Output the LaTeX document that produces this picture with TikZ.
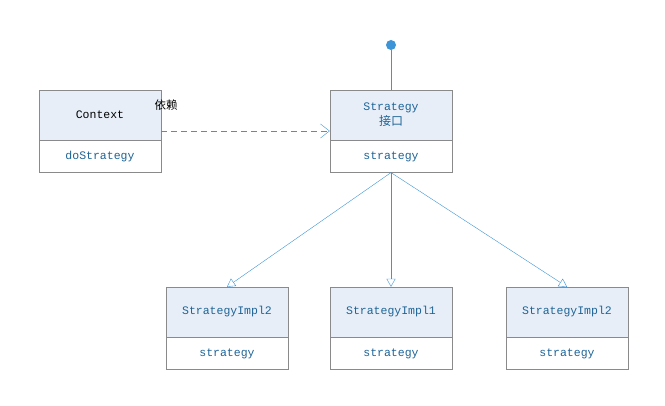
\documentclass[tikz,border=0pt]{standalone}
\usepackage{fontspec}
\setmonofont{Liberation Mono}
\newfontfamily\cjk{Noto Sans CJK SC}
\usetikzlibrary{positioning,arrows.meta}
\definecolor{headfill}{HTML}{E7EEF8}
\definecolor{boxline}{HTML}{8A8A8A}
\definecolor{textblue}{HTML}{1E6496}
\definecolor{linkblue}{HTML}{3D94D6}
\tikzset{
  classhead/.style={rectangle, draw=boxline, fill=headfill, minimum width=122pt, minimum height=50pt, inner sep=0pt, font=\ttfamily\fontsize{11.5}{14}\selectfont, text=textblue, align=center},
  classbody/.style={rectangle, draw=boxline, fill=white, minimum width=122pt, minimum height=32pt, inner sep=0pt, font=\ttfamily\fontsize{11.5}{14}\selectfont, text=textblue},
  depend/.style={draw=linkblue, dashed, dash pattern=on 6pt off 4pt, -{Straight Barb[length=9pt,width=14pt]}},
  realize/.style={draw=linkblue, -{Triangle[open,length=8pt,width=9pt]}}
}
\begin{document}
\begin{tikzpicture}[x=1pt,y=-1pt]
        \useasboundingbox (0,0) rectangle (665,406);
        % Nodes
        \node (context) [classhead, text=black] at (100,115) {Context};
        \node (contextop) [classbody, below=0pt of context] {doStrategy};
        \node (strategy) [classhead] at (391,115) {Strategy\\[1pt]{\cjk\fontsize{12}{14}\selectfont 接口}};
        \node (strategyop) [classbody, below=0pt of strategy] {strategy};
        \node (impla) [classhead] at (227,312) {StrategyImpl2};
        \node (implaop) [classbody, below=0pt of impla] {strategy};
        \node (implb) [classhead] at (391,312) {StrategyImpl1};
        \node (implbop) [classbody, below=0pt of implb] {strategy};
        \node (implc) [classhead] at (567,312) {StrategyImpl2};
        \node (implcop) [classbody, below=0pt of implc] {strategy};
        \node (lollipop) [circle, fill=linkblue, inner sep=0pt, minimum size=10pt] at (391,45) {};

        % Arrows
        \draw[linkblue] (lollipop) -- (strategy.north);
        \draw[depend] (context.east |- 0,131) -- (strategy.west |- 0,131);
        \draw[realize] (strategyop.south) -- (impla.north);
        \draw[realize] (strategyop.south) -- (implb.north);
        \draw[realize] (strategyop.south) -- (implc.north);

        % Labels
        \node (dependlabel) [font=\cjk\fontsize{11.5}{13}\selectfont] at (166,105) {依赖};
\end{tikzpicture}
\end{document}
